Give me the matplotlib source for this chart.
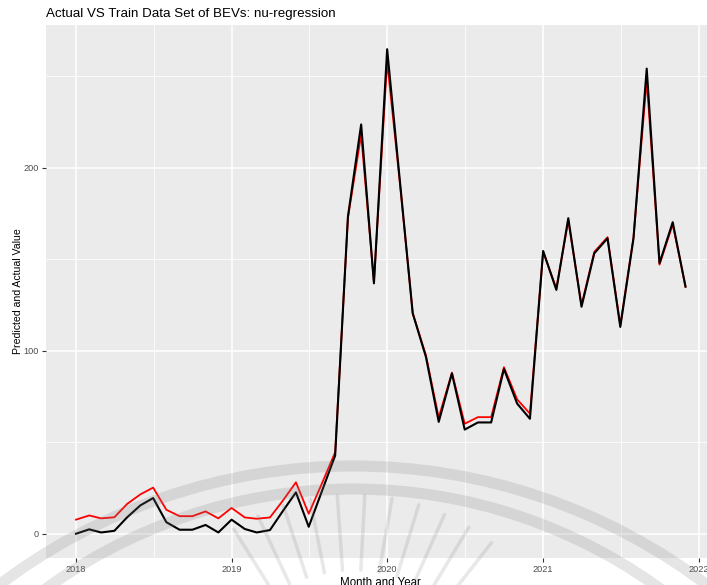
import numpy as np
import pandas as pd
import matplotlib
matplotlib.use('Agg')
import matplotlib.pyplot as plt
import matplotlib.dates as mdates
from matplotlib.patches import Arc
from matplotlib.transforms import IdentityTransform

plt.rcParams['font.family'] = ['Liberation Sans', 'DejaVu Sans']

# monthly values, Jan 2018 - Dec 2021
months = pd.date_range('2018-01-01', periods=48, freq='MS')

actual = [0.0, 2.4, 0.7, 1.6, 9.0, 15.5, 19.5, 6.3, 2.2, 2.2, 4.8, 0.7,
          7.7, 2.6, 0.7, 2.0, 12.3, 22.6, 3.8, 23.3, 42.7, 173.3, 223.6, 136.8,
          264.7, 190.0, 120.4, 96.6, 61.1, 87.6, 56.9, 60.8, 60.8, 90.0, 71.1, 62.8,
          154.5, 133.2, 172.4, 124.0, 153.2, 161.4, 113.0, 161.4, 254.1, 147.8, 170.2, 135.0]

trained = [7.7, 10.0, 8.4, 9.0, 16.3, 21.5, 25.2, 13.1, 9.6, 9.6, 12.2, 8.4,
           14.1, 8.9, 8.2, 8.9, 18.0, 28.1, 10.9, 27.5, 44.5, 172.5, 218.0, 137.5,
           258.0, 189.0, 120.5, 97.5, 63.5, 88.0, 60.1, 63.7, 63.7, 91.0, 73.4, 65.6,
           154.0, 134.0, 171.0, 125.0, 154.0, 162.0, 114.0, 162.0, 248.0, 147.0, 169.0, 135.0]

year_ticks = pd.to_datetime(['2018-01-01', '2019-01-01', '2020-01-01', '2021-01-01', '2022-01-01'])
year_labels = ['2018', '2019', '2020', '2021', '2022']
y_ticks = [0, 100, 200]


def watermark(fig):
    # faint logo-like arcs and rays laid over the figure
    h = 585
    for cy, r in [(1052, 586), (1012, 523)]:
        fig.add_artist(Arc((353, h - cy), 2 * r, 2 * r, theta1=15, theta2=165,
                           transform=IdentityTransform(), lw=8,
                           color='#808080', alpha=0.2, zorder=10))
    cx, cy = 353, h - 720
    for ang in np.arange(52, 129, 7):
        a = np.deg2rad(ang)
        r0, r1 = 150, 225
        fig.add_artist(plt.Line2D([cx + r0 * np.cos(a), cx + r1 * np.cos(a)],
                                  [cy + r0 * np.sin(a), cy + r1 * np.sin(a)],
                                  transform=IdentityTransform(), lw=2.5,
                                  color='#808080', alpha=0.18,
                                  solid_capstyle='round', zorder=10))


def plot_chart():
    fig = plt.figure(figsize=(7.07, 5.85), dpi=100)
    ax = fig.add_axes([0.0644, 0.0462, 0.9483, 0.9111])
    ax.set_facecolor('#EBEBEB')
    for s in ax.spines.values():
        s.set_visible(False)

    x = mdates.date2num(months)
    ax.plot(x, trained, color='red', lw=1.3, zorder=3)
    ax.plot(x, actual, color='black', lw=1.5, zorder=4)

    # ggplot-style 5% expansion
    xr = x.max() - x.min()
    ax.set_xlim(x.min() - 0.05 * xr, x.max() + 0.05 * xr)
    ymin, ymax = 0, max(max(actual), max(trained))
    yr = ymax - ymin
    ax.set_ylim(ymin - 0.05 * yr, ymax + 0.05 * yr)

    xt = mdates.date2num(year_ticks)
    ax.set_xticks(xt)
    ax.set_xticklabels(year_labels)
    ax.set_xticks((xt[:-1] + xt[1:]) / 2, minor=True)
    ax.set_yticks(y_ticks)
    ax.set_yticks([50, 150, 250], minor=True)

    ax.grid(which='major', color='white', lw=1.1)
    ax.grid(which='minor', color='white', lw=0.55)
    ax.set_axisbelow(True)
    ax.tick_params(which='major', length=3, width=0.8, color='#333333',
                   labelsize=6.6, labelcolor='#4D4D4D', pad=2)
    ax.tick_params(which='minor', length=0)

    ax.set_xlabel('Month and Year', fontsize=8.3, labelpad=2)
    ax.set_ylabel('Predicted and Actual Value', fontsize=7.6, labelpad=0)
    ax.set_title('Actual VS Train Data Set of BEVs: nu-regression',
                 loc='left', fontsize=9.6, pad=6)

    watermark(fig)
    fig.savefig('out.png', dpi=100)


if __name__ == '__main__':
    plot_chart()
